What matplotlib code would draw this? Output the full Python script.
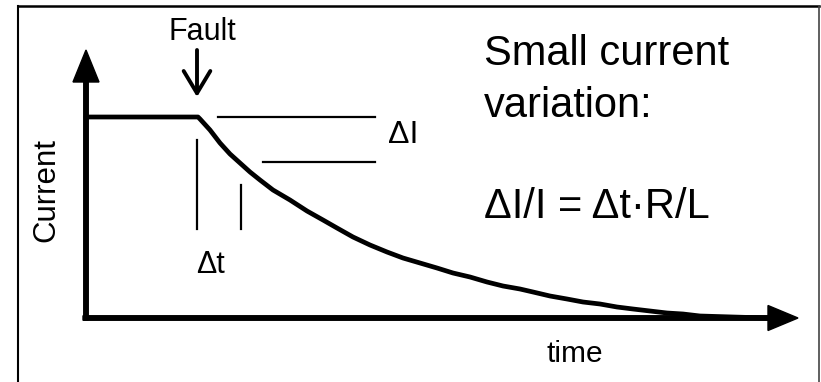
import matplotlib
matplotlib.use("Agg")
import matplotlib.pyplot as plt

# ---- data (time / current in arbitrary units, origin at the axes corner) ----
curve_t = [0, 112, 114, 124, 134, 144, 154, 164, 174, 187, 204, 221, 237, 251,
           267, 284, 301, 317, 334, 351, 367, 384, 401, 417, 434, 447, 464, 481,
           497, 514, 531, 547, 564, 581, 597, 614, 647, 681]
curve_i = [201, 201, 199, 188, 175, 164, 155, 146, 138, 128, 118, 107, 98, 90,
           81, 73, 66, 60, 55, 50, 45, 41, 36, 32, 29, 26, 22, 19,
           16, 14, 11, 9, 7, 5, 4, 2, 1, 0]

fault_t = 111          # moment of the fault
dI_levels = [201, 156]  # the two current levels marking delta I
dt_times = [111, 155]   # the two instants marking delta t

plt.rcParams['font.family'] = ['Liberation Sans', 'DejaVu Sans']

fig = plt.figure(figsize=(8.21, 3.82), dpi=100)
ax = fig.add_axes([0, 0, 1, 1])
ax.set_xlim(-86, 735)
ax.set_ylim(-64, 318)
ax.axis('off')

# outer frame (bottom edge is off the picture)
ax.plot([-68, -68], [-80, 312], color='k', lw=1.5)
ax.plot([-68, 733], [312, 312], color='k', lw=1.8)
ax.plot([733, 733], [312, -80], color='#444444', lw=1.2)

# axes with arrows
ax.arrow(-3, 0, 715, 0, width=4.5, head_width=25, head_length=30,
         length_includes_head=True, color='k')
ax.arrow(0, -2, 0, 270, width=4.5, head_width=26, head_length=32,
         length_includes_head=True, color='k')

# current trace
ax.plot(curve_t, curve_i, color='k', lw=3.4, solid_capstyle='round',
        solid_joinstyle='round')

# delta I markers
ax.plot([132, 289], [dI_levels[0], dI_levels[0]], color='k', lw=1.6)
ax.plot([177, 289], [dI_levels[1], dI_levels[1]], color='k', lw=1.6)
ax.text(302, 183, '\u0394I', fontsize=23, va='center', ha='left')

# delta t markers
ax.plot([dt_times[0], dt_times[0]], [178, 89], color='k', lw=1.6)
ax.plot([dt_times[1], dt_times[1]], [133, 89], color='k', lw=1.6)
ax.text(110, 45, '\u0394t', fontsize=22, va='baseline', ha='left')

# fault arrow
ax.annotate('', xy=(fault_t, 221), xytext=(fault_t, 268),
            arrowprops=dict(arrowstyle='->,head_length=0.8,head_width=0.48',
                            lw=2.8, color='k', shrinkA=0, shrinkB=0,
                            mutation_scale=20))
ax.text(116, 278, 'Fault', fontsize=22, ha='center', va='baseline')

# axis labels
ax.text(-40, 128, 'Current', fontsize=22.5, rotation=90, ha='center', va='center')
ax.text(489, -44, 'time', fontsize=21.5, ha='center', va='baseline')

# explanation text
ax.text(398, 253, 'Small current', fontsize=30, ha='left', va='baseline')
ax.text(398, 201, 'variation:', fontsize=30, ha='left', va='baseline')
ax.text(398, 100, '\u0394I/I = \u0394t\u00b7R/L', fontsize=30, ha='left', va='baseline')

plt.savefig('out.png', dpi=100)
